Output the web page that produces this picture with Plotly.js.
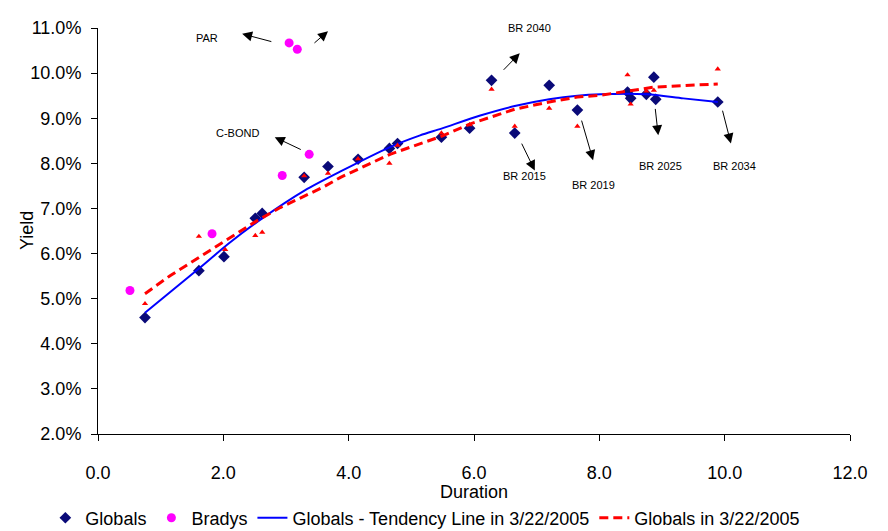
<!DOCTYPE html>
<html>
<head>
<meta charset="utf-8">
<script src="https://cdn.plot.ly/plotly-3.0.1.min.js"></script>
<style>html,body{margin:0;padding:0;background:#fff;} #chart{width:888px;height:531px;}</style>
</head>
<body>
<div id="chart"></div>
<script>
// Globals (diamonds)
const globalsDuration = [0.75,1.61,2.01,2.51,2.62,3.29,3.67,4.15,4.65,4.78,5.48,5.93,6.28,6.65,7.20,7.65,8.45,8.50,8.75,8.87,8.90,9.89];
const globalsYield    = [4.58,5.62,5.93,6.78,6.89,7.69,7.93,8.09,8.33,8.44,8.58,8.78,9.84,8.67,9.73,9.18,9.58,9.44,9.53,9.91,9.42,9.36];
// Bradys (circles)
const bradysDuration = [0.51,1.82,2.94,3.37,3.05,3.18];
const bradysYield    = [5.18,6.44,7.73,8.20,10.67,10.53];
// Globals on 3/22/2005 (small triangles)
const g0322Duration = [0.75,1.61,2.03,2.51,2.62,3.29,3.67,4.15,4.65,4.78,5.48,5.93,6.28,6.65,7.20,7.65,8.45,8.50,8.75,8.87,9.89];
const g0322Yield    = [4.89,6.38,6.09,6.40,6.47,7.72,7.78,8.10,8.00,8.40,8.67,8.85,9.64,8.82,9.22,8.82,9.96,9.31,9.60,9.62,10.09];
// Dashed line: Globals in 3/22/2005
const dashDuration = [0.75,1.15,1.63,2.06,2.54,2.91,3.59,3.87,4.66,5.48,5.93,6.65,7.20,7.65,8.02,8.45,8.87,9.89];
const dashYield    = [5.11,5.51,5.93,6.31,6.73,7.02,7.47,7.69,8.20,8.60,8.87,9.20,9.36,9.47,9.51,9.60,9.69,9.76];
// Tendency line
const trendDuration = [0.75,1.63,2.10,2.62,3.30,3.87,4.66,5.14,5.48,6.10,6.65,7.20,7.65,8.02,8.75,9.34,9.89];
const trendYield    = [4.69,5.69,6.24,6.78,7.40,7.82,8.36,8.62,8.77,9.06,9.27,9.42,9.50,9.53,9.53,9.44,9.36];
// Labels
const labelText = ["PAR","DISCOUNT","C-BOND","BR 2040","BR 2015","BR 2019","BR 2025","BR 2034"];
const labelX    = [1.74,4.47,2.23,6.89,6.80,7.91,8.97,10.16];
const labelY    = [10.78,11.29,8.67,11.0,7.71,7.53,7.93,7.93];
const arrowTailX = [2.79,3.43,3.26,6.45,6.75,7.71,8.89,9.96];
const arrowTailY = [10.69,10.64,8.29,10.04,8.47,8.98,9.24,9.20];
const arrowHeadX = [2.30,3.67,2.82,6.73,6.97,7.90,8.94,10.10];
const arrowHeadY = [10.87,10.93,8.58,10.44,7.84,8.07,8.62,8.44];

const FONT = 'Liberation Sans, Arial, sans-serif';

const traces = [
  {x: globalsDuration, y: globalsYield, name: 'Globals', mode: 'markers', type: 'scatter',
   marker: {symbol: 'diamond', size: 9, color: '#0a0a78'}},
  {x: bradysDuration, y: bradysYield, name: 'Bradys', mode: 'markers', type: 'scatter',
   marker: {symbol: 'circle', size: 9, color: '#ff00ff'}},
  {x: trendDuration, y: trendYield, name: 'Globals - Tendency Line in 3/22/2005', mode: 'lines', type: 'scatter',
   line: {color: '#0000ff', width: 2, shape: 'spline', smoothing: 0.8}},
  {x: dashDuration, y: dashYield, name: 'Globals in 3/22/2005', mode: 'lines', type: 'scatter',
   line: {color: '#ff0000', width: 3, dash: '9px,5px'}},
  {x: g0322Duration, y: g0322Yield, name: 'Globals 3/22 points', mode: 'markers', type: 'scatter', showlegend: false,
   marker: {symbol: 'triangle-up', size: 5.5, color: '#ff0000'}}
];

const annotations = [];
for (let i = 0; i < labelText.length; i++) {
  annotations.push({x: labelX[i], y: labelY[i], xref: 'x', yref: 'y', text: labelText[i], showarrow: false,
    font: {family: FONT, size: 11, color: '#000'}});
  annotations.push({x: arrowHeadX[i], y: arrowHeadY[i], xref: 'x', yref: 'y', ax: arrowTailX[i], ay: arrowTailY[i],
    axref: 'x', ayref: 'y', text: '', showarrow: true, arrowhead: 2, arrowsize: 2, arrowwidth: 1, arrowcolor: '#000'});
}
// axis titles
annotations.push({x: -0.0944, y: 0.5, xref: 'paper', yref: 'paper', text: 'Yield', textangle: -90, showarrow: false,
  xanchor: 'center', yanchor: 'middle', font: {family: FONT, size: 18, color: '#000'}});
annotations.push({x: 0.5, y: -0.143, xref: 'paper', yref: 'paper', text: 'Duration', showarrow: false,
  xanchor: 'center', yanchor: 'middle', font: {family: FONT, size: 18, color: '#000'}});

const layout = {
  width: 888, height: 531,
  margin: {l: 98, r: 38, t: 28, b: 97, autoexpand: false},
  paper_bgcolor: '#fff', plot_bgcolor: '#fff',
  font: {family: FONT, size: 18, color: '#000'},
  showlegend: true,
  legend: {orientation: 'h', x: -0.07, xref: 'paper', xanchor: 'left', y: -0.207, yanchor: 'middle',
    font: {family: FONT, size: 18, color: '#000'}, itemwidth: 30, tracegroupgap: 0},
  xaxis: {range: [0, 12], dtick: 2, tick0: 0, tickformat: '.1f', showgrid: false, zeroline: false, automargin: false,
    showline: true, linecolor: '#000', linewidth: 1, ticks: 'outside', ticklen: 6, tickcolor: '#000',
    ticklabelstandoff: 16, tickfont: {family: FONT, size: 18}},
  yaxis: {range: [2, 11], dtick: 1, tick0: 2, tickformat: '.1f', ticksuffix: '%', showgrid: false, zeroline: false, automargin: false,
    showline: true, linecolor: '#000', linewidth: 1, ticks: 'outside', ticklen: 6, tickcolor: '#000',
    ticklabelstandoff: 6, tickfont: {family: FONT, size: 18}},
  annotations: annotations
};

Plotly.newPlot('chart', traces, layout, {displayModeBar: false, staticPlot: true});
</script>
</body>
</html>
